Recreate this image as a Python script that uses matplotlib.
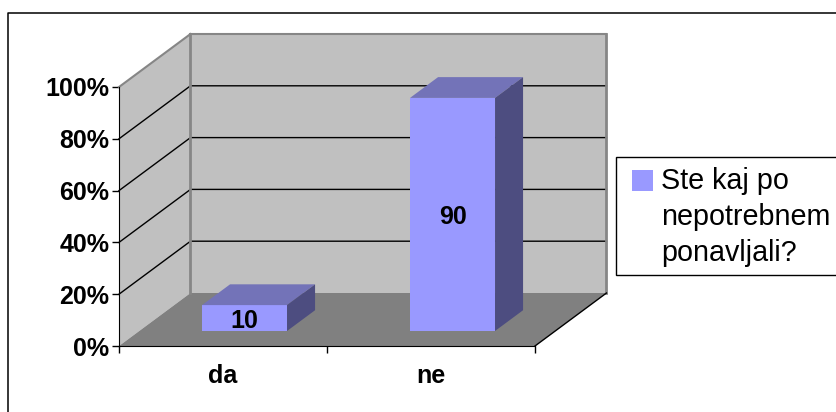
"""3-D style column chart drawn on a flat axes with an oblique projection."""
import matplotlib
matplotlib.use("Agg")
import matplotlib.pyplot as plt
from matplotlib.lines import Line2D
from matplotlib.patches import Rectangle

plt.rcParams["font.family"] = ["Liberation Sans", "DejaVu Sans"]

categories = ["da", "ne"]
values = [10, 90]
y_ticks = [0, 20, 40, 60, 80, 100]
y_labels = ["0%", "20%", "40%", "60%", "80%", "100%"]
legend_lines = ["Ste kaj po", "nepotrebnem", "ponavljali?"]

W, H = 837, 412
WALL = "#c0c0c0"
WALL_EDGE = "#868686"
FLOOR = "#808080"
FRONT = "#9999ff"
TOP = "#7373b8"
SIDE = "#4d4d80"

# oblique depth vector, in data units (one category = 208 px, 100% = 259 px)
DX = 71.5 / 208
DY = 53 / 2.59
BAR_W = 85 / 208
BAR_SHIFT = 1.3 / 208
D0, D1 = 0.283, 0.675


def proj(x, y, d):
    return x + d * DX, y + d * DY


def poly(ax, pts, color, z=2):
    ax.fill([p[0] for p in pts], [p[1] for p in pts], facecolor=color,
            edgecolor=color, lw=0, zorder=z, clip_on=False)


def edge(ax, a, b, color=WALL_EDGE, lw=1.5, z=1.6):
    pa, pb = proj(*a), proj(*b)
    ax.plot([pa[0], pb[0]], [pa[1], pb[1]], color=color, lw=lw, zorder=z,
            clip_on=False)


fig = plt.figure(figsize=(W / 100, H / 100), dpi=100)
# chart frame: only the top and left sides fall inside the image
fig.add_artist(Line2D([8.5 / W, 8.5 / W, 1], [0, 1 - 12.5 / H, 1 - 12.5 / H],
                      color="black", lw=1.1, transform=fig.transFigure))

ax = fig.add_axes([119 / W, 1 - 346 / H, 416 / W, 259 / H])
ax.set_xlim(0, len(categories))
ax.set_ylim(0, 100)
ax.patch.set_visible(False)
for s in ("top", "right"):
    ax.spines[s].set_visible(False)

n = len(categories)
# walls and floor
poly(ax, [proj(0, 0, 1), proj(n, 0, 1), proj(n, 100, 1), proj(0, 100, 1)], WALL, 1)
poly(ax, [proj(0, 0, 0), proj(0, 0, 1), proj(0, 100, 1), proj(0, 100, 0)], WALL, 1)
poly(ax, [proj(0, 0, 0), proj(n, 0, 0), proj(n, 0, 1), proj(0, 0, 1)], FLOOR, 1)

# gridlines run along the side wall and across the back wall
for t in y_ticks[1:-1]:
    xs, ys = zip(proj(0, t, 0), proj(0, t, 1), proj(n, t, 1))
    ax.plot(xs, ys, color="black", lw=1, zorder=1.5, clip_on=False)

# wall outlines
edge(ax, (0, 100, 0), (0, 100, 1))
edge(ax, (0, 100, 1), (n, 100, 1))
edge(ax, (0, 100, 1), (0, 0, 1), lw=2)
edge(ax, (n, 100, 1), (n, 0, 1), lw=2)
edge(ax, (n, 0, 0), (n, 0, 1), color="black", lw=1, z=1.7)

# columns
for i, v in enumerate(values):
    x0 = i + 0.5 - BAR_W / 2 + BAR_SHIFT
    x1 = x0 + BAR_W
    poly(ax, [proj(x0, 0, D0), proj(x1, 0, D0), proj(x1, v, D0), proj(x0, v, D0)], FRONT, 3)
    poly(ax, [proj(x0, v, D0), proj(x1, v, D0), proj(x1, v, D1), proj(x0, v, D1)], TOP, 3)
    poly(ax, [proj(x1, 0, D0), proj(x1, 0, D1), proj(x1, v, D1), proj(x1, v, D0)], SIDE, 3)
    lx, ly = proj(i + 0.5 + BAR_SHIFT, v / 2, D0)
    ax.text(lx, ly, str(v), ha="center", va="center_baseline", fontsize=18,
            fontweight="bold", zorder=4)

ax.set_xticks(range(n + 1))
ax.set_xticklabels([])
ax.set_yticks(y_ticks)
ax.set_yticklabels(y_labels, fontsize=18, fontweight="bold")
ax.tick_params(axis="both", length=5, width=1, color="black", pad=2)
for i, c in enumerate(categories):
    ax.text(i + 0.5, -11.5, c, ha="center", va="center", fontsize=18, fontweight="bold")

# legend box
fig.add_artist(Rectangle((616.5 / W, 1 - 274.5 / H), 225 / W, 118 / H, fc="white",
                         ec="black", lw=1, transform=fig.transFigure))
fig.add_artist(Rectangle((632 / W, 1 - 191 / H), 21 / W, 21 / H, fc=FRONT, ec="none",
                         transform=fig.transFigure))
for line, py in zip(legend_lines, [181, 217, 253]):
    fig.text(661 / W, 1 - py / H, line, fontsize=20.7, va="center", ha="left")

fig.savefig("out.png", dpi=100)
